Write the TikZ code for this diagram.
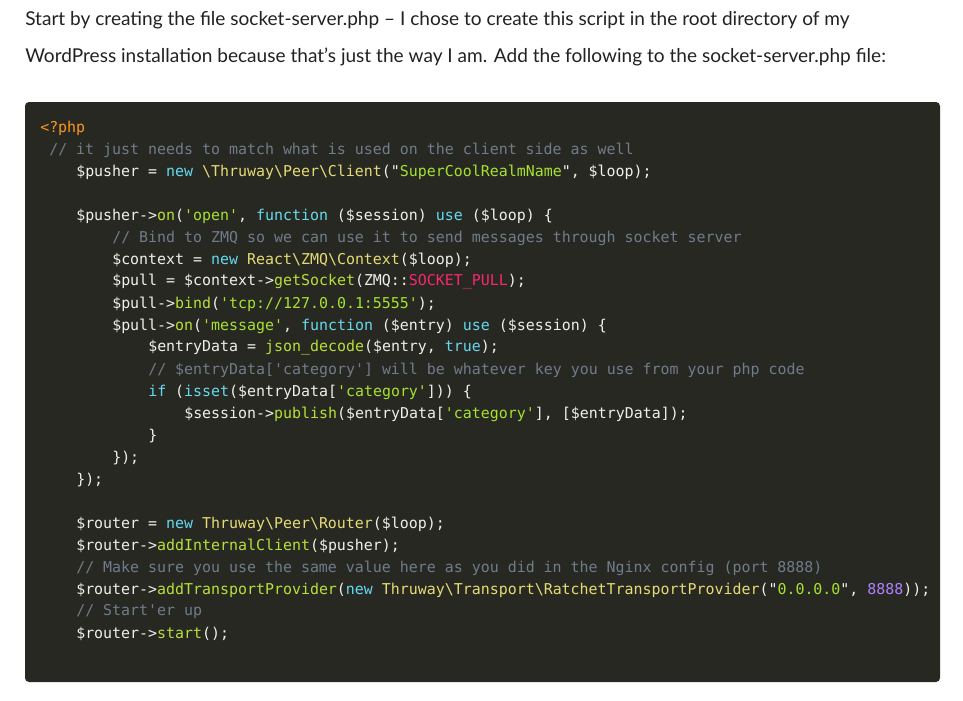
\documentclass[tikz,border=0pt]{standalone}
\usepackage{fontspec}
\setmainfont{Lato}
\setmonofont{DejaVu Sans Mono}
\definecolor{bgc}{HTML}{272822}
\definecolor{txc}{HTML}{F0F0EA}
\definecolor{kwc}{HTML}{66D9EF}
\definecolor{clc}{HTML}{E6DB74}
\definecolor{stc}{HTML}{A6E22E}
\definecolor{fnc}{HTML}{B8E03A}
\definecolor{cmc}{HTML}{707C8A}
\definecolor{nmc}{HTML}{AE81FF}
\definecolor{pkc}{HTML}{F92672}
\definecolor{tgc}{HTML}{FD971F}
\definecolor{hdc}{HTML}{222222}
\newcommand\ck[1]{\textcolor{kwc}{#1}}
\newcommand\cc[1]{\textcolor{clc}{#1}}
\newcommand\cs[1]{\textcolor{stc}{#1}}
\newcommand\cf[1]{\textcolor{fnc}{#1}}
\newcommand\cm[1]{\textcolor{cmc}{#1}}
\newcommand\cn[1]{\textcolor{nmc}{#1}}
\newcommand\cp[1]{\textcolor{pkc}{#1}}
\newcommand\bs{\textbackslash}
\begin{document}
\begin{tikzpicture}[x=0.75pt,y=-0.75pt,
  hd/.style={anchor=west,inner sep=0pt,text=hdc,font=\fontsize{14.3pt}{16pt}\selectfont},
  cl/.style={anchor=west,inner sep=0pt,text=txc,font=\ttfamily\fontsize{11.2pt}{13pt}\selectfont}]
\useasboundingbox (0,0) rectangle (963,700);
\fill[white] (0,0) rectangle (963,700);
\fill[bgc,rounded corners=3pt] (25,102) rectangle (940,682);
\node[hd] (h1) at (25,20) {Start by creating the file socket-server.php – I chose to create this script in the root directory of my};
\node[hd] (h2) at (25,57) {WordPress installation because that’s just the way I am. Add the following to the socket-server.php file:};
\node[cl] (l1) at (40,128) {\textcolor{tgc}{<?php}};
\node[cl] (l2) at (49,150) {\cm{// it just needs to match what is used on the client side as well}};
\node[cl] (l3) at (76,172) {\$pusher = \ck{new} \cc{\bs Thruway\bs Peer\bs Client}("\cs{SuperCoolRealmName}", \$loop);};
\node[cl] (l5) at (76,216) {\$pusher->\cf{on}(\cs{'open'}, \ck{function} (\$session) \ck{use} (\$loop) \{};
\node[cl] (l6) at (112,238) {\cm{// Bind to ZMQ so we can use it to send messages through socket server}};
\node[cl] (l7) at (112,260) {\$context = \ck{new} \cc{React\bs ZMQ\bs Context}(\$loop);};
\node[cl] (l8) at (112,282) {\$pull = \$context->\cf{getSocket}(ZMQ::\cp{SOCKET\_PULL});};
\node[cl] (l9) at (112,304) {\$pull->\cf{bind}(\cs{'tcp://127.0.0.1:5555'});};
\node[cl] (l10) at (112,326) {\$pull->\cf{on}(\cs{'message'}, \ck{function} (\$entry) \ck{use} (\$session) \{};
\node[cl] (l11) at (148,348) {\$entryData = \cf{json\_decode}(\$entry, \ck{true});};
\node[cl] (l12) at (148,370) {\cm{// \$entryData['category'] will be whatever key you use from your php code}};
\node[cl] (l13) at (148,392) {\ck{if} (\ck{isset}(\$entryData[\cs{'category'}])) \{};
\node[cl] (l14) at (184,414) {\$session->\cf{publish}(\$entryData[\cs{'category'}], [\$entryData]);};
\node[cl] (l15) at (148,436) {\}};
\node[cl] (l16) at (112,458) {\});};
\node[cl] (l17) at (76,480) {\});};
\node[cl] (l19) at (76,524) {\$router = \ck{new} \cc{Thruway\bs Peer\bs Router}(\$loop);};
\node[cl] (l20) at (76,546) {\$router->\cf{addInternalClient}(\$pusher);};
\node[cl] (l21) at (76,568) {\cm{// Make sure you use the same value here as you did in the Nginx config (port 8888)}};
\node[cl] (l22) at (76,590) {\$router->\cf{addTransportProvider}(\ck{new} \cc{Thruway\bs Transport\bs RatchetTransportProvider}("\cs{0.0.0.0}", \cn{8888}));};
\node[cl] (l23) at (76,612) {\cm{// Start'er up}};
\node[cl] (l24) at (76,634) {\$router->\cf{start}();};
\end{tikzpicture}
\end{document}
